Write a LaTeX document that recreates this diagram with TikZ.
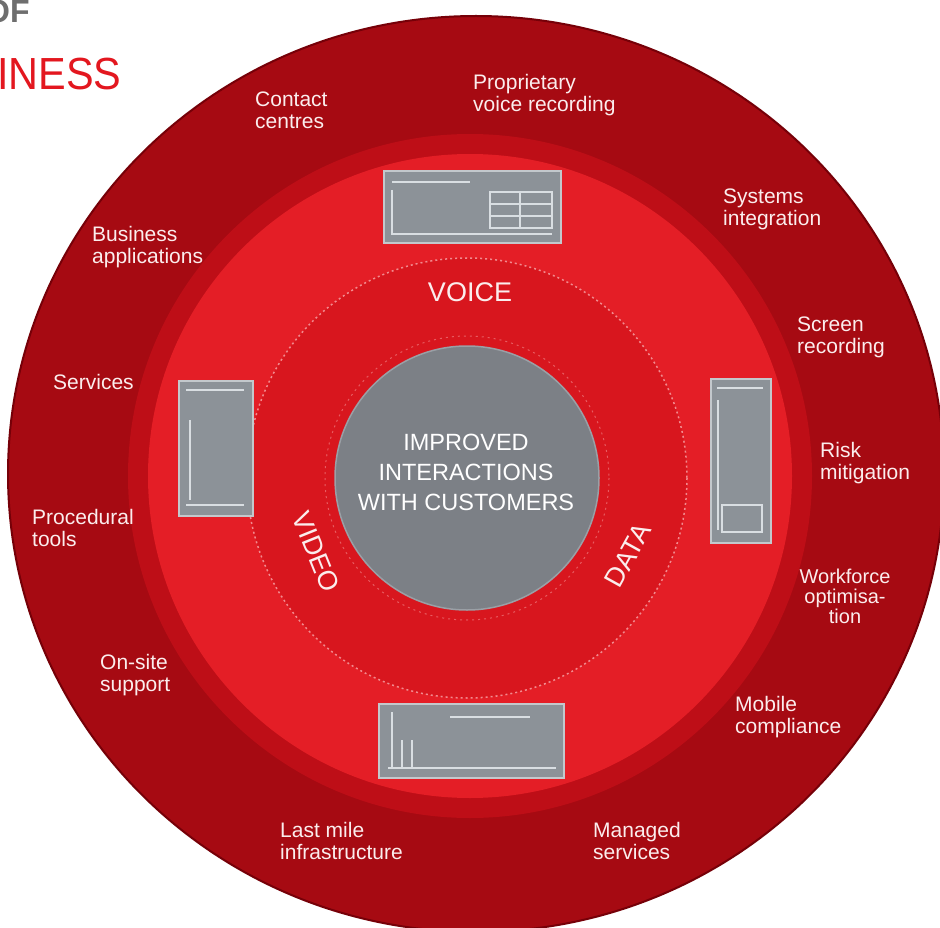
\documentclass[tikz,border=0pt]{standalone}
\usepackage{fontspec}
\setmainfont{Liberation Sans}
\definecolor{outerred}{HTML}{A60A12}
\definecolor{edgered}{HTML}{760008}
\definecolor{bandred}{HTML}{BE0E17}
\definecolor{brightred}{HTML}{E41E26}
\definecolor{midred}{HTML}{D8161E}
\definecolor{dotpink}{HTML}{F28A8E}
\definecolor{coregray}{HTML}{7C8086}
\definecolor{coreedge}{HTML}{9AA0A6}
\definecolor{screengray}{HTML}{8C9298}
\definecolor{screenedge}{HTML}{C3C8CC}
\definecolor{screenlight}{HTML}{D9DEE2}
\definecolor{labelwhite}{HTML}{FBEDED}
\definecolor{headgray}{HTML}{6E6E6E}
\definecolor{headred}{HTML}{E3171F}
\begin{document}
\begin{tikzpicture}[x=1pt,y=-1pt,
  lbl/.style={font=\fontsize{21}{22}\selectfont, text=labelwhite, inner sep=0pt, anchor=north west, align=left},
  lblc/.style={lbl, anchor=north, align=center},
  ringword/.style={font=\fontsize{27}{30}\selectfont, text=labelwhite, inner sep=0pt},
  corelbl/.style={font=\fontsize{23.5}{30}\selectfont, text=white, inner sep=0pt, align=center},
  screen/.style={fill=screengray, draw=screenedge, line width=2pt},
  screenline/.style={draw=screenlight, line width=1.2pt},
  headline/.style={inner sep=0pt, anchor=base west}]
\useasboundingbox (0,0) rectangle (940,928);
\fill[white] (0,0) rectangle (940,928);

\begin{scope}
  \clip (0,0) rectangle (940,928);
  % outer ring
  \fill[outerred] (476,474) ellipse [x radius=468, y radius=458];
  \draw[edgered, line width=2pt] (476,474) ellipse [x radius=468, y radius=458];
  % transition band and bright ring
  \fill[bandred] (470,476) circle [radius=342];
  \fill[brightred] (470,476) circle [radius=322];
  % ring carrying the three channels
  \fill[midred] (467,478) circle [radius=220];
  \draw[dotpink, line width=1.5pt, dash pattern=on 2pt off 3pt] (467,478) circle [radius=220];
  \draw[dotpink!60!midred, line width=1pt, dash pattern=on 2pt off 4pt] (467,478) circle [radius=142];
  % core
  \fill[coregray] (467,478) circle [radius=132];
  \draw[coreedge, line width=1.5pt] (467,478) circle [radius=132];

  % headings cut by the left edge
  \node[headline, font=\fontsize{32}{32}\selectfont\bfseries, text=headgray] (hof) at (-15,23) {OF};
  \node[headline, font=\fontsize{45}{45}\selectfont, text=headred, xscale=0.92] (hbus) at (-3,90) {INESS};
\end{scope}

% screens
\node[screen, minimum width=177pt, minimum height=72pt, anchor=north west] (stop) at (383,170) {};
\draw[screenline] (392,182) -- (470,182);
\draw[screenline] (392,190) -- (392,234) -- (552,234);
\draw[screenline] (490,192) rectangle (552,228);
\draw[screenline] (490,204) -- (552,204) (490,216) -- (552,216) (520,192) -- (520,228);

\node[screen, minimum width=74pt, minimum height=135pt, anchor=north west] (sleft) at (178,380) {};
\draw[screenline] (186,390) -- (244,390);
\draw[screenline] (190,420) -- (190,500);
\draw[screenline] (186,505) -- (244,505);

\node[screen, minimum width=60pt, minimum height=164pt, anchor=north west] (sright) at (710,378) {};
\draw[screenline] (717,388) -- (763,388);
\draw[screenline] (718,400) -- (718,530);
\draw[screenline] (722,505) rectangle (762,532);

\node[screen, minimum width=185pt, minimum height=74pt, anchor=north west] (sbottom) at (378,703) {};
\draw[screenline] (450,717) -- (530,717);
\draw[screenline] (392,712) -- (392,768) (402,740) -- (402,768) (412,740) -- (412,768);
\draw[screenline] (388,768) -- (556,768);

% channel words
\node[ringword] (voice) at (470,292) {VOICE};
\node[ringword, rotate=-68] (video) at (316,552) {VIDEO};
\node[ringword, rotate=61] (data) at (628,555) {DATA};

% core statement
\node[corelbl] (core) at (466,472) {IMPROVED\\INTERACTIONS\\WITH CUSTOMERS};

% services around the outer ring
\node[lbl] (contact) at (255,92) {Contact\\centres};
\node[lbl] (propvoice) at (473,74) {Proprietary\\voice recording};
\node[lbl] (sysint) at (723,189) {Systems\\integration};
\node[lbl] (screenrec) at (797,317) {Screen\\recording};
\node[lbl] (risk) at (820,442) {Risk\\mitigation};
\node[lblc, font=\fontsize{20}{20}\selectfont] (wfo) at (845,569) {Workforce\\optimisa-\\tion};
\node[lbl] (mobile) at (735,696) {Mobile\\compliance};
\node[lbl] (managed) at (593,822) {Managed\\services};
\node[lbl] (lastmile) at (280,822) {Last mile\\infrastructure};
\node[lbl] (onsite) at (100,654) {On-site\\support};
\node[lbl] (procedural) at (32,509) {Procedural\\tools};
\node[lbl] (services) at (53,374) {Services};
\node[lbl] (bizapps) at (92,226) {Business\\applications};
\end{tikzpicture}
\end{document}
